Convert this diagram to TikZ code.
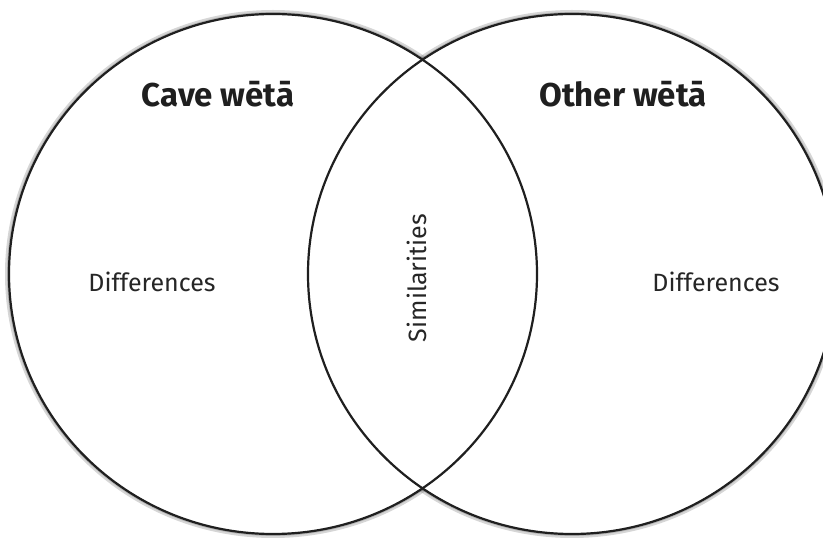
\documentclass[tikz,border=0pt]{standalone}
\usepackage{fontspec}
\setmainfont{Fira Sans}
\tikzset{
  ring/.style={draw=black!88, line width=2.2pt},
  title/.style={font=\fontsize{33}{38}\selectfont\bfseries, text=black!88, inner sep=0pt},
  label/.style={font=\fontsize{25}{29}\selectfont, text=black!85, inner sep=0pt}
}
\begin{document}
\begin{tikzpicture}[x=1pt,y=-1pt]
\useasboundingbox (0,0) rectangle (823,545);
\clip (0,0) rectangle (823,545);
\fill[white] (0,0) rectangle (823,545);
\coordinate (L) at (273,274);
\coordinate (R) at (572,274);
% blurred drop shadow
\foreach \d in {-8,-6,-4,-2,0,2,4}{
  \fill[black, opacity=0.16, shift={(7,8)}] (L) ellipse [x radius=264+\d, y radius=260+\d];
  \fill[black, opacity=0.16, shift={(7,8)}] (R) ellipse [x radius=264+\d, y radius=260+\d];
}
\fill[white] (L) ellipse [x radius=264, y radius=260];
\fill[white] (R) ellipse [x radius=264, y radius=260];
\draw[ring] (L) ellipse [x radius=264, y radius=260];
\draw[ring] (R) ellipse [x radius=264, y radius=260];
\node[title] (t1) at (218,94) {Cave wētā};
\node[title] (t2) at (623,94) {Other wētā};
\node[label] (d1) at (152,282) {Differences};
\node[label] (d2) at (716,282) {Differences};
\node[label, rotate=90] (s) at (417,278) {Similarities};
\end{tikzpicture}
\end{document}
